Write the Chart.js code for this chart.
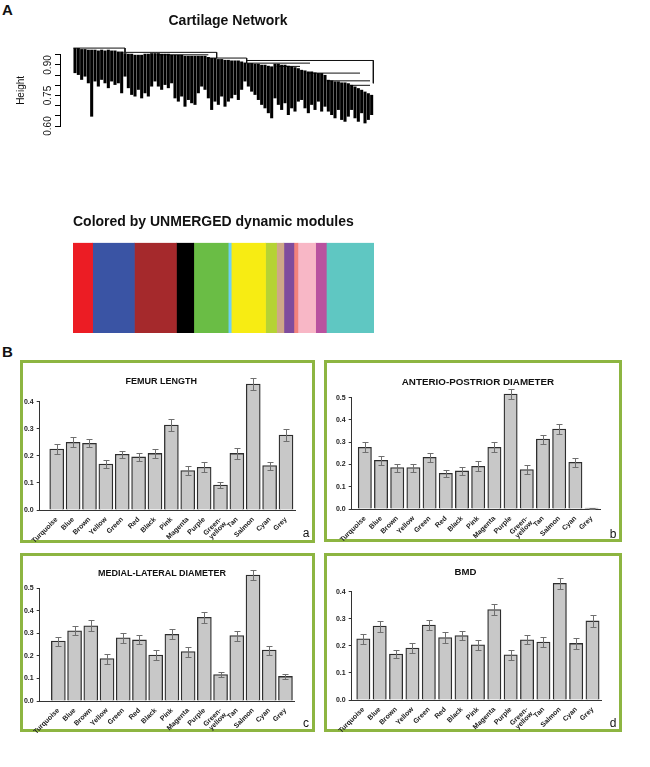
<!DOCTYPE html>
<html><head><meta charset="utf-8">
<script src="https://cdn.jsdelivr.net/npm/chart.js@4.4.1/dist/chart.umd.min.js"></script>
<style>
html,body{margin:0;padding:0;background:#fff;width:650px;height:767px;overflow:hidden;font-family:'Liberation Sans',Arial,Helvetica,sans-serif;}
canvas{position:absolute;display:block;}
.panel{position:absolute;border:3px solid #8db541;box-sizing:border-box;}
.big{position:absolute;font-weight:bold;font-size:15px;color:#111;line-height:1;}
.pt{position:absolute;font-weight:bold;font-size:9px;color:#111;white-space:nowrap;transform:translate(-50%,-50%);line-height:1;}
.let{position:absolute;font-size:12px;color:#111;transform:translate(-50%,-50%);line-height:1;}
</style></head><body>
<div class="big" style="left:2px;top:2px">A</div>
<div class="big" style="left:2px;top:344px">B</div>

<canvas id="dendro" width="400" height="140" style="left:0;top:0"></canvas>
<canvas id="modules" width="301" height="128" style="left:73px;top:205px"></canvas>

<div class="panel" style="left:20px;top:360px;width:295px;height:183px"></div>
<div class="panel" style="left:324px;top:360px;width:298px;height:182px"></div>
<div class="panel" style="left:20px;top:553px;width:295px;height:179px"></div>
<div class="panel" style="left:324px;top:553px;width:298px;height:179px"></div>

<canvas id="pa" width="289" height="183" style="left:23px;top:363px"></canvas>
<canvas id="pb" width="292" height="182" style="left:327px;top:363px"></canvas>
<canvas id="pc" width="289" height="179" style="left:23px;top:556px"></canvas>
<canvas id="pd" width="292" height="179" style="left:327px;top:556px"></canvas>

<div class="pt" style="left:161.3px;top:380.5px">FEMUR LENGTH</div>
<div class="pt" style="left:478px;top:382px;font-size:9.8px">ANTERIO-POSTRIOR DIAMETER</div>
<div class="pt" style="left:162px;top:572.5px">MEDIAL-LATERAL DIAMETER</div>
<div class="pt" style="left:465.5px;top:571.5px;font-size:9.6px">BMD</div>

<div class="let" style="left:306px;top:533px">a</div>
<div class="let" style="left:613px;top:534px">b</div>
<div class="let" style="left:306px;top:723px">c</div>
<div class="let" style="left:613px;top:723px">d</div>

<script>
// ---------- Data: dendrogram (approximate leaf clusters) ----------
const leafTop = [0.983,0.983,0.978,0.978,0.975,0.975,0.975,0.971,0.975,0.971,
  0.975,0.971,0.971,0.966,0.966,0.958,0.955,0.955,0.950,0.950,
  0.950,0.955,0.955,0.958,0.958,0.958,0.955,0.955,0.955,0.950,
  0.950,0.950,0.950,0.945,0.945,0.945,0.945,0.945,0.945,0.945,
  0.939,0.934,0.934,0.929,0.929,0.925,0.925,0.922,0.922,0.922,
  0.917,0.912,0.909,0.909,0.906,0.906,0.901,0.901,0.896,0.893,
  0.906,0.906,0.901,0.901,0.896,0.893,0.889,0.884,0.876,0.873,
  0.868,0.868,0.863,0.860,0.860,0.851,0.827,0.824,0.819,0.819,
  0.814,0.814,0.810,0.802,0.794,0.786,0.778,0.769,0.761,0.753];
const leafBottom = [0.860,0.851,0.827,0.843,0.810,0.646,0.819,0.794,0.827,0.810,
  0.786,0.819,0.802,0.810,0.761,0.843,0.786,0.753,0.745,0.778,
  0.736,0.761,0.745,0.794,0.819,0.794,0.778,0.802,0.786,0.810,
  0.736,0.720,0.745,0.695,0.728,0.712,0.704,0.761,0.794,0.778,
  0.736,0.679,0.720,0.704,0.745,0.695,0.720,0.736,0.753,0.728,
  0.778,0.819,0.794,0.769,0.753,0.728,0.704,0.687,0.663,0.638,
  0.736,0.704,0.679,0.712,0.654,0.687,0.671,0.720,0.728,0.687,
  0.663,0.704,0.679,0.720,0.671,0.695,0.671,0.654,0.638,0.679,
  0.630,0.621,0.646,0.679,0.638,0.621,0.663,0.613,0.630,0.654];
// merge segments: [x1, y1, x2, y2] in leaf-index / height units
const mergeSegments = [
  [-0.5,0.983,15,0.983],[14.5,0.962,42.5,0.962],[24.5,0.950,40,0.950],
  [39.5,0.934,51.5,0.934],[51.5,0.922,89.5,0.922],[51.5,0.909,70.5,0.909],
  [60.5,0.893,67.5,0.893],[69.5,0.860,85.5,0.860],[75.5,0.822,88.5,0.822],
  [82.5,0.800,88.5,0.800],[89.5,0.922,89.5,0.810],[51.5,0.934,51.5,0.909],
  [15,0.983,15,0.962],[42.5,0.962,42.5,0.934]
];
const heightTicks = [0.60,0.65,0.70,0.75,0.80,0.85,0.90,0.95];
const heightLabels = [0.60,0.75,0.90];

// ---------- Data: module colour bar ----------
const moduleNames = ['red','blue','brown','black','green','lightblue','yellow','greenyellow','tan','purple','salmon','pink','magenta','turquoise'];
const moduleSizes = [19.6,41.7,42.0,17.3,34.4,3.0,34.3,11.0,7.3,10.0,4.0,17.7,10.7,47.6];
const moduleColors = ['#ec1c24','#3a54a4','#a5292c','#000000','#6abd45','#6dcff6','#f7ec13','#b5d334','#cfa888','#7f4c9d','#f2827c','#f8b7c6','#b9529f','#5fc7c2'];

// ---------- Data: bar panels ----------
const categories = ['Turquoise','Blue','Brown','Yellow','Green','Red','Black','Pink','Magenta','Purple','Green-yellow','Tan','Salmon','Cyan','Grey'];
const femurLength = [0.225,0.250,0.246,0.170,0.206,0.196,0.209,0.314,0.146,0.158,0.092,0.209,0.465,0.164,0.277];
const femurErr    = [0.018,0.018,0.015,0.015,0.013,0.014,0.016,0.021,0.018,0.018,0.012,0.019,0.021,0.015,0.021];
const apDiameter  = [0.277,0.219,0.186,0.186,0.232,0.160,0.171,0.192,0.277,0.516,0.177,0.314,0.359,0.210,0.004];
const apErr       = [0.022,0.021,0.018,0.018,0.021,0.015,0.018,0.022,0.022,0.024,0.022,0.020,0.024,0.021,0.002];
const mlDiameter  = [0.266,0.311,0.334,0.188,0.280,0.271,0.204,0.296,0.219,0.371,0.117,0.290,0.559,0.226,0.109];
const mlErr       = [0.020,0.020,0.025,0.022,0.022,0.020,0.024,0.022,0.022,0.025,0.012,0.022,0.022,0.020,0.013];
const bmd         = [0.226,0.273,0.170,0.192,0.277,0.231,0.238,0.204,0.334,0.167,0.222,0.214,0.431,0.209,0.292];
const bmdErr      = [0.018,0.020,0.015,0.017,0.018,0.019,0.018,0.018,0.020,0.018,0.017,0.017,0.021,0.019,0.021];

const FAMILY = "'Liberation Sans', Arial, Helvetica, sans-serif";

// ---------- Dendrogram ----------
const dendroDatasets = [{
  type:'bar',
  data: leafTop.map((t,i)=>({x:i, y:[leafBottom[i], t]})),
  backgroundColor:'#000', borderWidth:0, barPercentage:0.92, categoryPercentage:1, clip:false
}];
mergeSegments.forEach(s=>{
  dendroDatasets.push({type:'line', data:[{x:s[0],y:s[1]},{x:s[2],y:s[3]}],
    borderColor:'#111', borderWidth:1, pointRadius:0, clip:false, tension:0});
});
new Chart(document.getElementById('dendro'), {
  type:'bar',
  data:{datasets:dendroDatasets},
  options:{
    responsive:false, animation:false,
    layout:{padding:{left:0,right:4,top:0,bottom:14}},
    plugins:{legend:{display:false}, tooltip:{enabled:false},
      title:{display:true, text:'Cartilage Network', fullSize:false, color:'#111',
        font:{family:FAMILY,size:14,weight:'bold'}, padding:{top:13,bottom:25}}},
    scales:{
      x:{type:'linear', min:-4.5, max:96.3, offset:false, display:false},
      y:{type:'linear', min:0.6, max:0.95, position:'left',
        afterBuildTicks:(s)=>{ s.ticks = heightTicks.map(v=>({value:v})); },
        afterFit:(s)=>{ s.width = 60; },
        border:{display:true,color:'#000',width:1},
        grid:{display:true, drawOnChartArea:false, drawTicks:true, tickLength:5, color:'#000', lineWidth:1},
        ticks:{autoSkip:false, minRotation:90, maxRotation:90, crossAlign:'center', padding:-3, color:'#111',
          font:{family:FAMILY,size:10},
          callback:(v)=>{ const k=Math.round(v*100); return heightLabels.some(h=>Math.round(h*100)===k) ? (k/100).toFixed(2) : ''; }},
        title:{display:true, text:'Height', color:'#111', font:{family:FAMILY,size:10}, padding:{top:15,bottom:0}}
      }
    }
  }
});

// ---------- Module colour bar ----------
const totalSize = moduleSizes.reduce((a,b)=>a+b,0);
new Chart(document.getElementById('modules'), {
  type:'bar',
  data:{labels:['modules'], datasets: moduleNames.map((n,i)=>({label:n, data:[moduleSizes[i]], backgroundColor:moduleColors[i], borderWidth:0, barPercentage:1, categoryPercentage:1}))},
  options:{
    indexAxis:'y', responsive:false, animation:false,
    layout:{padding:0},
    plugins:{legend:{display:false}, tooltip:{enabled:false},
      title:{display:true, text:'Colored by UNMERGED dynamic modules', align:'start', color:'#111',
        font:{family:FAMILY,size:14,weight:'bold'}, padding:{top:9,bottom:12}}},
    scales:{
      x:{stacked:true, display:false, min:0, max:totalSize},
      y:{stacked:true, display:false}
    }
  }
});

// ---------- Bar panels ----------
const errorBars = {
  id:'errorBars',
  afterDatasetsDraw(chart){
    const ds = chart.data.datasets[0]; const errs = ds.errors; if(!errs) return;
    const meta = chart.getDatasetMeta(0); const ys = chart.scales.y; const ctx = chart.ctx;
    ctx.save(); ctx.strokeStyle='#6f6f6f'; ctx.lineWidth=1;
    meta.data.forEach((bar,i)=>{
      const v = ds.data[i].y, e = errs[i];
      const top = Math.round(ys.getPixelForValue(v+e))+0.5, bot = Math.round(ys.getPixelForValue(v-e))+0.5;
      const x = Math.round(bar.x)+0.5;
      ctx.beginPath();
      ctx.moveTo(x,top); ctx.lineTo(x,bot);
      ctx.moveTo(x-3,top); ctx.lineTo(x+3,top);
      ctx.moveTo(x-3,bot); ctx.lineTo(x+3,bot);
      ctx.stroke();
    });
    ctx.restore();
  }
};

function makePanel(id, values, errs, cfg){
  new Chart(document.getElementById(id), {
    type:'bar',
    data:{datasets:[{
      data: values.map((v,i)=>({x:i,y:v})), errors: errs,
      backgroundColor:'#c8c8c8', borderColor:'#2e2e2e', borderWidth:1.3,
      barThickness:cfg.bar, clip:false
    }]},
    plugins:[errorBars],
    options:{
      responsive:false, animation:false,
      layout:{padding:{left:0,right:cfg.padRight,top:cfg.padTop,bottom:0}},
      plugins:{legend:{display:false}, tooltip:{enabled:false}},
      scales:{
        x:{type:'linear', min:cfg.xMin, max:cfg.xMax, offset:false,
          afterBuildTicks:(s)=>{ s.ticks = categories.map((c,i)=>({value:i})); },
          afterFit:(s)=>{ s.height = cfg.xHeight; },
          border:{display:true,color:'#333',width:1},
          grid:{display:false},
          ticks:{autoSkip:false, minRotation:45, maxRotation:45, padding:-2, color:'#222',
            font:{family:FAMILY,size:7,weight:'bold',lineHeight:0.95},
            callback:(v)=>{ const c = categories[v]; if(!c) return ''; const k=c.indexOf('-'); return k>0 ? [c.slice(0,k+1), c.slice(k+1)] : c; }}
        },
        y:{type:'linear', min:0, max:cfg.yMax,
          afterFit:(s)=>{ s.width = cfg.yWidth; },
          border:{display:true,color:'#333',width:1},
          grid:{display:true, drawOnChartArea:false, drawTicks:true, tickLength:3, color:'#333'},
          ticks:{stepSize:0.1, padding:3, color:'#222', font:{family:FAMILY,size:7,weight:'bold'},
            callback:(v)=>v.toFixed(1)}
        }
      }
    }
  });
}
makePanel('pa', femurLength, femurErr, {yMax:0.4, xMin:-1.04, xMax:14.55, bar:14, yWidth:16.7, padRight:17, padTop:38.7, xHeight:36});
makePanel('pb', apDiameter, apErr, {yMax:0.5, xMin:-0.81, xMax:14.52, bar:13.3, yWidth:24.7, padRight:19, padTop:34.7, xHeight:36});
makePanel('pc', mlDiameter, mlErr, {yMax:0.5, xMin:-1.15, xMax:14.57, bar:14, yWidth:16.7, padRight:17.3, padTop:32.3, xHeight:34});
makePanel('pd', bmd, bmdErr, {yMax:0.4, xMin:-0.71, xMax:14.56, bar:13.3, yWidth:24.7, padRight:17.3, padTop:35.7, xHeight:35});
</script>
</body></html>
